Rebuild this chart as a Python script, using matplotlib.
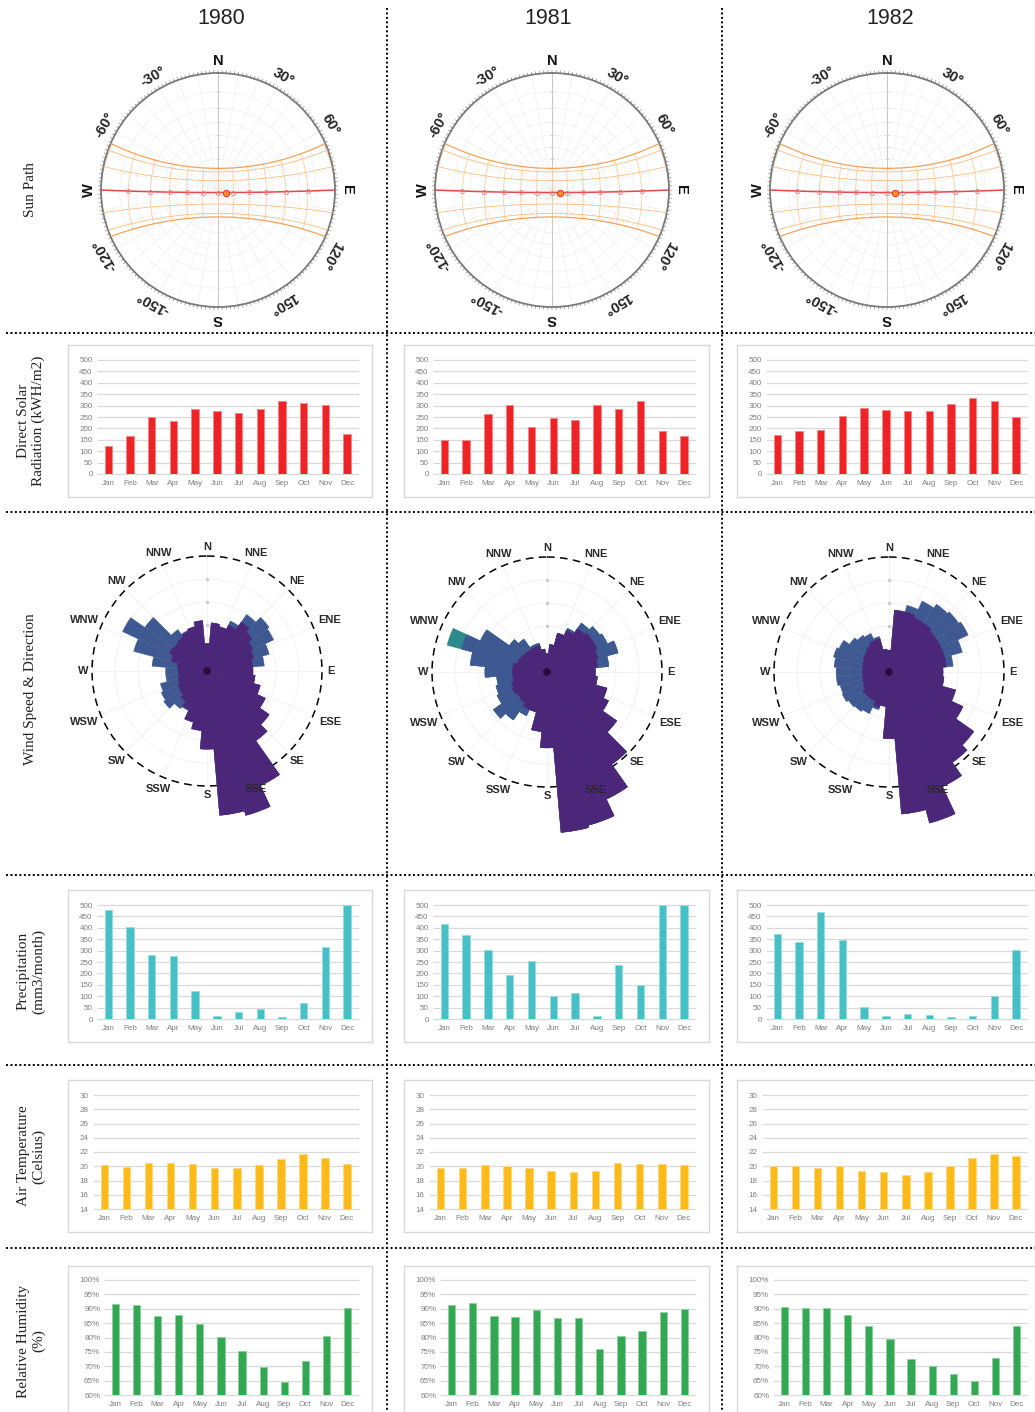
import numpy as np
import matplotlib
matplotlib.use("Agg")
import matplotlib.pyplot as plt
from matplotlib.lines import Line2D

plt.rcParams["font.family"] = ["Liberation Sans", "DejaVu Sans"]

# ---------------------------------------------------------------- data
YEARS = ["1980", "1981", "1982"]
MONTHS = ["Jan", "Feb", "Mar", "Apr", "May", "Jun",
          "Jul", "Aug", "Sep", "Oct", "Nov", "Dec"]

SOLAR_1980 = [125, 168, 252, 234, 286, 275, 268, 283, 322, 311, 301, 176]
SOLAR_1981 = [151, 149, 265, 303, 207, 246, 238, 301, 287, 318, 187, 168]
SOLAR_1982 = [171, 190, 194, 255, 289, 280, 276, 278, 309, 332, 319, 249]

PRECIP_1980 = [480, 404, 280, 277, 124, 13, 32, 44, 10, 71, 315, 500]
PRECIP_1981 = [417, 368, 303, 191, 255, 99, 113, 14, 235, 151, 500, 500]
PRECIP_1982 = [374, 339, 468, 345, 54, 14, 20, 17, 7, 14, 99, 301]

TEMP_1980 = [20.2, 19.9, 20.4, 20.5, 20.3, 19.8, 19.7, 20.2, 21.0, 21.7, 21.2, 20.3]
TEMP_1981 = [19.7, 19.7, 20.2, 20.0, 19.7, 19.4, 19.2, 19.3, 20.5, 20.3, 20.3, 20.2]
TEMP_1982 = [20.1, 20.1, 19.7, 20.0, 19.4, 19.2, 18.8, 19.2, 20.1, 21.2, 21.7, 21.4]

HUMID_1980 = [91.8, 91.4, 87.4, 87.8, 84.6, 80.1, 75.3, 69.9, 64.4, 71.7, 80.5, 90.3]
HUMID_1981 = [91.3, 92.1, 87.5, 87.2, 89.4, 86.8, 86.7, 76.0, 80.5, 82.4, 88.9, 89.9]
HUMID_1982 = [90.5, 90.1, 90.1, 87.8, 84.0, 79.5, 72.6, 70.2, 67.2, 64.9, 72.8, 83.9]

# wind: cumulative frequency (%) up to each speed class, per 10-degree sector
WIND_DIRECTIONS = list(range(0, 360, 10))
WIND_CALM = 0.15
WIND_1980_LOW = [1.2, 2.1, 2.0, 2.2, 2.6, 2.4, 2.2, 2.1, 2.0, 2.0, 2.1, 2.4,
                 2.8, 3.3, 3.7, 5.5, 6.5, 6.3, 3.4, 2.6, 2.3, 1.85, 1.6, 1.45,
                 1.4, 1.3, 1.25, 1.25, 1.3, 1.6, 1.8, 1.75, 1.8, 1.9, 2.0, 2.2]
WIND_1980_MID = [1.2, 2.1, 2.0, 2.4, 3.0, 3.3, 3.2, 2.8, 2.5, 2.0, 2.1, 2.4,
                 2.8, 3.3, 3.7, 5.5, 6.5, 6.3, 3.4, 2.6, 2.3, 1.9, 2.0, 2.3,
                 2.2, 2.1, 1.8, 1.8, 2.4, 3.3, 4.05, 3.3, 2.2, 1.95, 2.0, 2.2]
WIND_1981_LOW = [0.8, 1.2, 1.75, 2.0, 2.3, 2.4, 2.4, 2.3, 2.2, 2.1, 2.2, 2.7,
                 2.95, 3.7, 4.9, 6.1, 6.9, 7.0, 3.3, 2.6, 1.8, 1.8, 1.65, 1.6,
                 1.67, 1.6, 1.5, 1.5, 1.5, 1.33, 1.3, 1.23, 1.2, 1.2, 1.2, 1.0]
WIND_1981_MID = [0.8, 1.2, 1.75, 2.1, 2.6, 2.8, 2.9, 3.2, 2.7, 2.1, 2.2, 2.7,
                 2.95, 3.7, 4.9, 6.1, 6.9, 7.0, 3.3, 2.6, 1.8, 2.1, 2.55, 2.85,
                 2.4, 2.3, 2.2, 2.7, 3.35, 3.85, 3.2, 2.0, 1.75, 1.3, 1.3, 1.0]
WIND_1981_HIGH = [0.8, 1.2, 1.75, 2.1, 2.6, 2.8, 2.9, 3.2, 2.7, 2.1, 2.2, 2.7,
                  2.95, 3.7, 4.9, 6.1, 6.9, 7.0, 3.3, 2.6, 1.8, 2.1, 2.55, 2.85,
                  2.4, 2.3, 2.2, 2.7, 3.35, 4.5, 3.2, 2.0, 1.75, 1.3, 1.3, 1.0]
WIND_1982_LOW = [0.95, 2.7, 2.7, 2.6, 2.6, 2.5, 2.5, 2.5, 2.5, 2.35, 2.4, 3.0,
                 3.55, 4.5, 4.8, 5.5, 6.8, 6.2, 2.9, 1.5, 1.6, 1.4, 1.4, 1.4,
                 1.25, 1.2, 1.15, 1.15, 1.15, 1.2, 1.25, 1.3, 1.4, 1.5, 1.5, 1.0]
WIND_1982_MID = [0.95, 2.7, 3.0, 3.4, 3.6, 3.7, 3.8, 3.3, 2.8, 2.35, 2.4, 3.0,
                 3.55, 4.5, 4.8, 5.5, 6.8, 6.2, 2.9, 1.5, 1.7, 2.0, 2.1, 2.15,
                 2.25, 2.2, 2.3, 2.3, 2.4, 2.5, 2.4, 2.1, 1.95, 1.85, 1.6, 1.0]
COMPASS_16 = ["N", "NNE", "NE", "ENE", "E", "ESE", "SE", "SSE",
              "S", "SSW", "SW", "WSW", "W", "WNW", "NW", "NNW"]

# sun path site and day curves (21st of each month)
LATITUDE = 2.5
DECLINATIONS = [-23.44, -20.1, -11.2, 0.0, 11.6, 20.1, 23.44]
SUN_HOURS = list(range(6, 19))
SUN_NOW = (0.0, 11.5)
ANGLE_LABELS = [(30, "30°"), (60, "60°"), (120, "120°"), (150, "150°"),
                (-30, "-30°"), (-60, "-60°"), (-120, "-120°"), (-150, "-150°")]
CARDINALS = [(0, "N"), (90, "E"), (180, "S"), (270, "W")]

# ---------------------------------------------------------------- layout
W_PX, H_PX = 1035, 1412
fig = plt.figure(figsize=(W_PX / 100, H_PX / 100), dpi=100)
fig.patch.set_facecolor("white")


def rect(x0, y0, x1, y1):
    return [x0 / W_PX, 1 - y1 / H_PX, (x1 - x0) / W_PX, (y1 - y0) / H_PX]


def fpt(x, y):
    return x / W_PX, 1 - y / H_PX


# column titles
for cx, yr in zip([221, 548, 890], YEARS):
    fig.text(*fpt(cx, 18), yr, ha="center", va="center", fontsize=15.5, color="#222222")

# row labels
row_labels = [(190, "Sun Path"),
              (421, "Direct Solar\nRadiation (kWH/m2)"),
              (689, "Wind Speed & Direction"),
              (971, "Precipitation\n(mm3/month)"),
              (1156, "Air Temperature\n(Celsius)"),
              (1341, "Relative Humidity\n(%)")]
for cy, txt in row_labels:
    fig.text(*fpt(31, cy), txt, rotation=90, ha="center", va="center",
             family="Liberation Serif", fontsize=11, color="#222222",
             multialignment="center", linespacing=1.15)

# dotted separators
for x in (387, 722):
    fig.add_artist(Line2D([x / W_PX] * 2, [1 - 8 / H_PX, 0], transform=fig.transFigure,
                          color="black", lw=1.4, linestyle=(0, (1, 1.3))))
for y in (333, 512, 875, 1065, 1248):
    fig.add_artist(Line2D([6 / W_PX, 1], [1 - y / H_PX] * 2, transform=fig.transFigure,
                          color="black", lw=1.4, linestyle=(0, (1, 1.3))))


# ---------------------------------------------------------------- sun path
def solar_position(dec, hour, lat):
    d = np.radians(dec)
    h = np.radians((np.asarray(hour, dtype=float) - 12.0) * 15.0)
    p = np.radians(lat)
    east = -np.cos(d) * np.sin(h)
    north = np.sin(d) * np.cos(p) - np.cos(d) * np.cos(h) * np.sin(p)
    up = np.sin(d) * np.sin(p) + np.cos(d) * np.cos(h) * np.cos(p)
    az = np.arctan2(east, north)
    r = np.tan(np.arccos(np.clip(up, -1, 1)) / 2.0)   # stereographic radius
    return az, r, up


def split_wrap(az, r):
    az = np.asarray(az, float).copy()
    r = np.asarray(r, float).copy()
    jump = np.where(np.abs(np.diff(az)) > np.pi / 2)[0]
    az = np.insert(az, jump + 1, np.nan)
    r = np.insert(r, jump + 1, np.nan)
    return az, r


def sun_panel(cx, cy, rad=117):
    ax = fig.add_axes(rect(cx - rad, cy - rad, cx + rad, cy + rad), projection="polar")
    ax.set_theta_zero_location("N")
    ax.set_theta_direction(-1)
    alt_r = [np.tan(np.radians(90 - a) / 2) for a in range(10, 90, 10)]
    ax.set_rgrids(alt_r, labels=[""] * len(alt_r))
    ax.set_thetagrids(range(0, 360, 10), labels=[""] * 36)
    ax.grid(color="#efefef", lw=0.5)
    ax.spines["polar"].set_edgecolor("#7a7a7a")
    ax.spines["polar"].set_linewidth(1.3)
    ax.tick_params(pad=0)

    # north-south axis
    ax.plot([0, 0], [0, 1], color="#c0c0c0", lw=0.6)
    ax.plot([np.pi, np.pi], [0, 1], color="#c0c0c0", lw=0.6)
    ax.plot(np.zeros(len(alt_r)), alt_r, ls="none", marker="_", ms=2.5, mew=0.5,
            color="#d4d4d4")

    # hour lines
    decs = np.linspace(min(DECLINATIONS), max(DECLINATIONS), 200)
    for hr in SUN_HOURS:
        az, r, up = solar_position(decs, hr, LATITUDE)
        ok = up >= 0
        a2, r2 = split_wrap(az[ok], r[ok])
        ax.plot(a2, r2, color="#f8cfa2", lw=0.6)

    # day curves
    hours = np.linspace(0, 24, 3000)
    for dec in DECLINATIONS:
        az, r, up = solar_position(dec, hours, LATITUDE)
        ok = up >= 0
        a2 = np.unwrap(az[ok])
        if dec == 0.0:
            ax.plot(a2, r[ok], color="#e5484d", lw=1.1, zorder=4)
        elif abs(dec) > 23:
            ax.plot(a2, r[ok], color="#f0a45a", lw=0.9, zorder=3)
        else:
            ax.plot(a2, r[ok], color="#f6bf86", lw=0.6, zorder=3)

    # hour markers on the equinox path
    az, r, up = solar_position(0.0, np.array(SUN_HOURS[1:-1]), LATITUDE)
    ax.plot(az, r, ls="none", marker="o", ms=3, mfc="none", mec="#ec7f82", mew=0.6, zorder=5)
    az, r, up = solar_position(SUN_NOW[0], SUN_NOW[1], LATITUDE)
    ax.plot([az], [r], ls="none", marker="o", ms=4.5, mfc="#f7931e", mec="#e53935",
            mew=0.8, zorder=6)

    # degree ticks around the rim
    t = np.radians(np.arange(0, 360, 2))
    tt = np.column_stack([t, t, np.full_like(t, np.nan)]).ravel()
    rr = np.column_stack([np.ones_like(t), np.full_like(t, 1.022),
                          np.full_like(t, np.nan)]).ravel()
    ax.plot(tt, rr, color="#8a8a8a", lw=0.5, clip_on=False)

    ax.set_ylim(0, 1)
    for deg, lbl in ANGLE_LABELS:
        ax.text(np.radians(deg), 1.115, lbl, rotation=-deg, ha="center", va="center",
                rotation_mode="anchor", fontsize=10.5, fontweight="bold", color="#222222")
    for deg, lbl in CARDINALS:
        ax.text(np.radians(deg), 1.10, lbl, rotation=-deg, ha="center", va="center",
                rotation_mode="anchor", fontsize=10.5, fontweight="bold", color="#111111")


for cx in (218, 552, 887):
    sun_panel(cx, 190)


# ---------------------------------------------------------------- bar panels
def lighten(c, f=0.45):
    rgb = np.array(matplotlib.colors.to_rgb(c))
    return tuple(rgb + (1 - rgb) * f)


def bar_panel(box, plot, values, color, ylim, yticks, labels):
    bx = fig.add_axes(rect(*box))
    bx.set_xticks([])
    bx.set_yticks([])
    for s in bx.spines.values():
        s.set_edgecolor("#d9d9d9")
        s.set_linewidth(1.0)
    bx.set_zorder(0)

    ax = fig.add_axes(rect(*plot))
    ax.set_zorder(1)
    ax.patch.set_alpha(0)
    x = np.arange(len(MONTHS))
    ax.bar(x, values, width=0.34, color=color, edgecolor=lighten(color), linewidth=0.7,
           zorder=3)
    ax.set_xlim(-0.5, 11.5)
    ax.set_ylim(*ylim)
    ax.set_yticks(yticks)
    ax.set_yticklabels(labels)
    ax.set_xticks(x)
    ax.set_xticklabels(MONTHS)
    ax.grid(axis="y", color="#d9d9d9", lw=0.9)
    ax.set_axisbelow(True)
    for gl in ax.get_ygridlines():
        gl.set_clip_on(False)
    for s in ax.spines.values():
        s.set_visible(False)
    ax.tick_params(length=0, labelsize=5.8, labelcolor="#7f7f7f", pad=3.5)
    ax.tick_params(axis="x", pad=4.5)


BOX_X = [(68, 372), (404, 709), (737, 1041)]
SOLAR = [SOLAR_1980, SOLAR_1981, SOLAR_1982]
PRECIP = [PRECIP_1980, PRECIP_1981, PRECIP_1982]
TEMP = [TEMP_1980, TEMP_1981, TEMP_1982]
HUMID = [HUMID_1980, HUMID_1981, HUMID_1982]

t500 = list(range(0, 501, 50))
t_temp = list(range(14, 31, 2))
t_hum = list(range(60, 101, 5))
for i, (bx0, bx1) in enumerate(BOX_X):
    right = bx1 - 14
    bar_panel((bx0, 345, bx1, 497), (bx0 + 29.5, 360, right, 474), SOLAR[i], "#ee2326",
              (0, 500), t500, [str(v) for v in t500])
    bar_panel((bx0, 890, bx1, 1042), (bx0 + 29.5, 905, right, 1019), PRECIP[i], "#46bfc7",
              (0, 500), t500, [str(v) for v in t500])
    bar_panel((bx0, 1080, bx1, 1232), (bx0 + 25.5, 1095, right, 1209), TEMP[i], "#fbba18",
              (14, 30), t_temp, [str(v) for v in t_temp])
    bar_panel((bx0, 1266, bx1, 1418), (bx0 + 37, 1280, right, 1395), HUMID[i], "#33a852",
              (60, 100), t_hum, [f"{v}%" for v in t_hum])


# ---------------------------------------------------------------- wind roses
WIND_COLORS = {"calm": "#2a0d3a", "low": "#4b2679", "mid": "#3e5891", "high": "#2b8a8c"}


def wind_panel(cx, cy, layers, unit=23.0, rmax=7.6):
    half = rmax * unit
    ax = fig.add_axes(rect(cx - half, cy - half, cx + half, cy + half), projection="polar")
    ax.set_theta_zero_location("N")
    ax.set_theta_direction(-1)
    ax.patch.set_alpha(0)
    ax.spines["polar"].set_visible(False)
    ax.grid(False)
    ax.set_xticks([])
    ax.set_yticks([])

    circ = np.linspace(0, 2 * np.pi, 400)
    for rr in (1, 2, 3, 4):
        ax.plot(circ, np.full_like(circ, rr), color="#f0f0f0", lw=0.6, zorder=0)
    for k in range(16):
        ang = np.radians(k * 22.5)
        ax.plot([ang, ang], [0, 5], color="#f0f0f0", lw=0.6, zorder=0)
    ax.plot(np.zeros(3), [2, 3, 4], ls="none", marker="o", ms=1.5, color="#cccccc", zorder=0)
    ax.plot(circ, np.full_like(circ, 5.0), color="black", lw=1.1, dashes=(5, 3.5), zorder=1)

    theta = np.radians(WIND_DIRECTIONS)
    width = np.radians(10)
    for name, vals in layers:
        ax.bar(theta, vals, width=width, bottom=0, color=WIND_COLORS[name],
               edgecolor=WIND_COLORS[name], linewidth=0.3, zorder=2)
    ax.bar(theta, np.full(len(theta), WIND_CALM), width=width, color=WIND_COLORS["calm"],
           edgecolor=WIND_COLORS["calm"], linewidth=0.3, zorder=3)

    for k, lbl in enumerate(COMPASS_16):
        ang = np.radians(k * 22.5)
        r = 5.38 + 0.22 * (len(lbl) - 1) * abs(np.sin(ang))
        ax.text(ang, r, lbl, ha="center", va="center", fontsize=8, fontweight="bold",
                color="#2a2a2a")
    ax.set_ylim(0, rmax)


wind_panel(207, 671, [("mid", WIND_1980_MID), ("low", WIND_1980_LOW)])
wind_panel(547, 672, [("high", WIND_1981_HIGH), ("mid", WIND_1981_MID),
                      ("low", WIND_1981_LOW)])
wind_panel(889, 672, [("mid", WIND_1982_MID), ("low", WIND_1982_LOW)])

fig.savefig("out.png", dpi=100, facecolor="white")
